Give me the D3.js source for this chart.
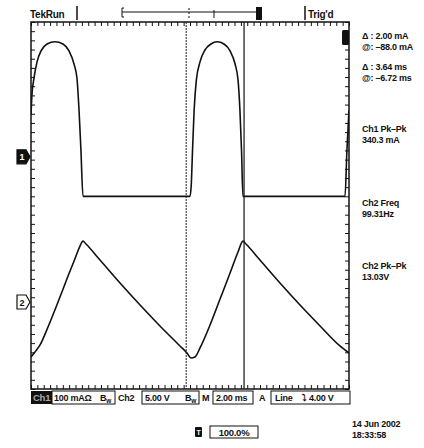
<!DOCTYPE html>
<html>
<head>
<meta charset="utf-8">
<script src="https://cdn.jsdelivr.net/npm/d3@7"></script>
<style>
  body { margin: 0; background: #fff; }
  svg text { font-family: "Liberation Sans", Arial, sans-serif; font-weight: bold; fill: #111; letter-spacing: -0.25px; }
</style>
</head>
<body>
<svg id="scope" width="424" height="448"></svg>
<script>
// Ch1 current (ms, mA)
var ch1Time = [0, 0.06, 0.19, 0.38, 0.63, 1.01, 1.51, 2.01, 2.39, 2.70, 2.89, 3.02, 3.14, 3.27,
  10.0, 10.08, 10.16, 10.26, 10.40, 10.63, 10.94, 11.32, 11.70, 12.14, 12.52, 12.83, 13.02, 13.14, 13.24, 13.33,
  19.75, 19.87, 20.0];
var ch1Value = [92, 135, 172, 207, 231, 246, 251, 246, 231, 203, 172, 102, 15, -86,
  -86, -60, 15, 102, 168, 207, 233, 246, 251, 246, 231, 203, 168, 102, 15, -86,
  -86, 15, 102];

// Ch2 voltage (ms, V)
var ch2Time = [0, 0.25, 0.57, 1.07, 1.70, 2.33, 2.83, 3.08, 3.27, 3.46, 4.34, 5.60, 6.86, 8.11, 9.37, 9.81, 10.06,
  10.31, 10.63, 11.26, 11.89, 12.52, 13.02, 13.33, 13.52, 14.40, 15.66, 16.92, 18.18, 19.43, 20.0];
var ch2Value = [-5.99, -5.45, -4.68, -2.72, 0, 2.83, 5.01, 6.10, 6.64, 6.32, 4.58, 2.07, -0.33, -2.61, -4.79, -5.56, -6.10,
  -5.99, -5.01, -2.51, 0.33, 3.16, 5.45, 6.64, 6.32, 4.58, 2.07, -0.33, -2.61, -4.79, -5.56];

var cursorTimes = [9.76, 13.40];

var readouts = [
  ["Δ : 2.00 mA", "@: \u201388.0 mA"],
  ["Δ : 3.64 ms", "@: \u20136.72 ms"],
  ["Ch1 Pk\u2013Pk", "340.3 mA"],
  ["Ch2 Freq", "99.31Hz"],
  ["Ch2 Pk\u2013Pk", "13.03V"]
];
var dateLines = ["14 Jun 2002", "18:33:58"];

var L = 31, R = 349, T = 22, B = 389;
var svg = d3.select("#scope");

var x = d3.scaleLinear().domain([0, 20]).range([L, R]);
var div = d3.scaleLinear().domain([0, 8]).range([B, T]);
var y1 = d3.scaleLinear().domain([-506, 294]).range([B, T]);   // 100 mA/div
var y2 = d3.scaleLinear().domain([-9.48, 30.52]).range([B, T]); // 5 V/div

svg.append("clipPath").attr("id", "clip")
  .append("rect").attr("x", L).attr("y", T).attr("width", R - L).attr("height", B - T);

// frame
svg.append("rect").attr("x", L).attr("y", T).attr("width", R - L).attr("height", B - T)
  .attr("fill", "none").attr("stroke", "#111").attr("stroke-width", 1.5);

var xTicks = d3.range(0, 20.001, 0.4);
var yTicks = d3.range(0, 8.001, 0.2);
function tidy(g) { g.select(".domain").remove(); g.selectAll("text").remove(); g.selectAll("line").attr("stroke", "#111"); }

svg.append("g").attr("transform", "translate(0," + T + ")")
  .call(d3.axisBottom(x).tickValues(xTicks).tickSize(4)).call(tidy);
svg.append("g").attr("transform", "translate(0," + B + ")")
  .call(d3.axisTop(x).tickValues(xTicks).tickSize(4)).call(tidy);
svg.append("g").attr("transform", "translate(" + L + ",0)")
  .call(d3.axisRight(div).tickValues(yTicks).tickSize(4)).call(tidy);
svg.append("g").attr("transform", "translate(" + R + ",0)")
  .call(d3.axisLeft(div).tickValues(yTicks).tickSize(4)).call(tidy);

// cursors
svg.append("line").attr("x1", x(cursorTimes[0])).attr("x2", x(cursorTimes[0]))
  .attr("y1", T).attr("y2", B).attr("stroke", "#222").attr("stroke-width", 1).attr("stroke-dasharray", "2,1");
svg.append("line").attr("x1", x(cursorTimes[1])).attr("x2", x(cursorTimes[1]))
  .attr("y1", T).attr("y2", B).attr("stroke", "#111").attr("stroke-width", 1.2);

// traces
var plot = svg.append("g").attr("clip-path", "url(#clip)");
var line1 = d3.line().x(function(d, i) { return x(ch1Time[i]); }).y(function(d) { return y1(d); }).curve(d3.curveMonotoneX);
var line2 = d3.line().x(function(d, i) { return x(ch2Time[i]); }).y(function(d) { return y2(d); }).curve(d3.curveMonotoneX);
plot.append("path").datum(ch1Value).attr("d", line1)
  .attr("fill", "none").attr("stroke", "#111").attr("stroke-width", 1.6);
plot.append("path").datum(ch2Value).attr("d", line2)
  .attr("fill", "none").attr("stroke", "#111").attr("stroke-width", 1.6);

// channel ground markers
function marker(yPos, label, filled) {
  var g = svg.append("g");
  g.append("path")
    .attr("d", "M17," + (yPos - 7) + "H26L30," + yPos + "L26," + (yPos + 7) + "H17Z")
    .attr("fill", filled ? "#111" : "#fff").attr("stroke", "#111").attr("stroke-width", 1.2);
  g.append("text").attr("x", 22).attr("y", yPos + 3.5).attr("text-anchor", "middle")
    .attr("font-size", 9).style("fill", filled ? "#fff" : "#111").text(label);
}
marker(y1(0), "1", true);
marker(y2(0), "2", false);

// trigger level marker on right edge
svg.append("rect").attr("x", 342).attr("y", 30).attr("width", 7).attr("height", 15).attr("rx", 1.5).attr("fill", "#111");

// top bar
svg.append("text").attr("x", 30).attr("y", 18).attr("font-size", 10).text("TekRun");
svg.append("line").attr("x1", 77).attr("x2", 77).attr("y1", 6).attr("y2", 20).attr("stroke", "#111").attr("stroke-width", 1.5);
svg.append("line").attr("x1", 122).attr("x2", 258).attr("y1", 12).attr("y2", 12).attr("stroke", "#111");
svg.append("path").attr("d", "M124,8H122V17H124").attr("fill", "none").attr("stroke", "#111");
svg.append("line").attr("x1", 189).attr("x2", 189).attr("y1", 8).attr("y2", 20).attr("stroke", "#111").attr("stroke-dasharray", "2,2");
svg.append("line").attr("x1", 214).attr("x2", 214).attr("y1", 10).attr("y2", 18).attr("stroke", "#111");
svg.append("rect").attr("x", 256).attr("y", 7).attr("width", 6).attr("height", 13).attr("fill", "#111");
svg.append("line").attr("x1", 305).attr("x2", 305).attr("y1", 6).attr("y2", 20).attr("stroke", "#111").attr("stroke-width", 1.5);
svg.append("text").attr("x", 308).attr("y", 18).attr("font-size", 10).text("Trig'd");

// readouts on the right
var readY = [36, 67, 129, 203, 266];
readouts.forEach(function(pair, i) {
  svg.append("text").attr("x", 362).attr("y", readY[i] + 3).attr("font-size", 9).text(pair[0]);
  svg.append("text").attr("x", 362).attr("y", readY[i] + 14).attr("font-size", 9).text(pair[1]);
});

// status bar
var by = 391, bh = 13;
svg.append("rect").attr("x", 31).attr("y", by).attr("width", 21).attr("height", bh).attr("fill", "#111");
svg.append("text").attr("x", 33).attr("y", by + 10).attr("font-size", 9.5).style("fill", "#aaa").text("Ch1");
function box(x0, x1) {
  svg.append("rect").attr("x", x0).attr("y", by).attr("width", x1 - x0).attr("height", bh)
    .attr("fill", "none").attr("stroke", "#111").attr("stroke-width", 1);
}
function txt(xp, s, anchor) {
  return svg.append("text").attr("x", xp).attr("y", by + 10).attr("font-size", 9)
    .attr("text-anchor", anchor || "start").text(s);
}
box(52, 115); txt(54, "100 mAΩ");
var bw1 = txt(100, "B"); bw1.append("tspan").attr("font-size", 6.5).attr("dy", 2).text("w");
txt(118, "Ch2");
box(142, 199); txt(145, "5.00 V");
var bw2 = txt(185, "B"); bw2.append("tspan").attr("font-size", 6.5).attr("dy", 2).text("w");
txt(202, "M");
box(213, 253); txt(216, "2.00 ms");
txt(259, "A");
box(271, 350); txt(275, "Line"); txt(302, "\u2935 4.00 V");

// trigger position readout
svg.append("rect").attr("x", 195).attr("y", 427).attr("width", 7).attr("height", 10).attr("rx", 1).attr("fill", "#111");
svg.append("text").attr("x", 198.5).attr("y", 435).attr("font-size", 7).attr("text-anchor", "middle").style("fill", "#fff").text("T");
svg.append("rect").attr("x", 210).attr("y", 426).attr("width", 48).attr("height", 12).attr("fill", "none").attr("stroke", "#111");
svg.append("text").attr("x", 234).attr("y", 436).attr("font-size", 9.5).attr("text-anchor", "middle").text("100.0%");

svg.append("text").attr("x", 352).attr("y", 427).attr("font-size", 9).text(dateLines[0]);
svg.append("text").attr("x", 352).attr("y", 438).attr("font-size", 9).text(dateLines[1]);
</script>
</body>
</html>
